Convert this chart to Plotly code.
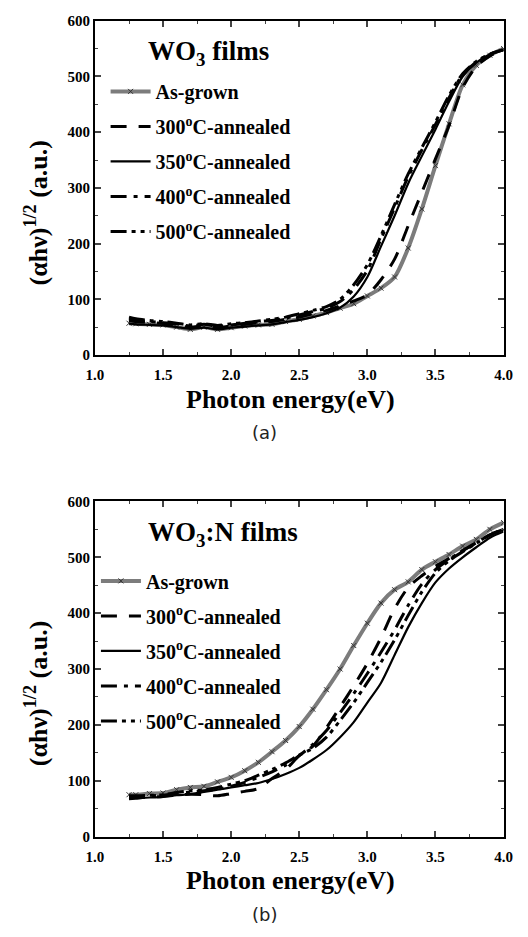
import plotly.graph_objects as go

# Photon energy grid (eV) shared by all spectra
energy = [1.25, 1.3, 1.4, 1.5, 1.6, 1.7, 1.8, 1.9, 2.0, 2.1, 2.2, 2.3, 2.4, 2.5,
          2.6, 2.7, 2.8, 2.9, 3.0, 3.1, 3.2, 3.3, 3.4, 3.5, 3.6, 3.7, 3.8, 3.9, 4.0]

# (a) WO3 films, (alpha*h*nu)^1/2 in a.u.
wo3_as_grown = [57, 56, 55, 54, 50, 46, 50, 46, 49, 52, 54, 55, 60, 64, 70, 76, 84, 92,
                106, 120, 140, 192, 262, 340, 415, 485, 520, 538, 550]
wo3_300 = [62, 60, 58, 57, 53, 50, 52, 49, 52, 55, 58, 60, 64, 68, 74, 80, 88, 97,
           108, 135, 172, 232, 292, 352, 412, 480, 518, 537, 548]
wo3_350 = [56, 55, 54, 53, 50, 47, 49, 46, 49, 51, 53, 55, 59, 63, 68, 75, 85, 105,
           140, 195, 250, 308, 357, 405, 455, 500, 525, 540, 548]
wo3_400 = [65, 62, 60, 58, 56, 52, 55, 52, 54, 57, 60, 62, 66, 72, 78, 84, 96, 118,
           152, 208, 264, 320, 368, 414, 462, 503, 526, 540, 548]
wo3_500 = [68, 65, 62, 60, 57, 54, 56, 53, 56, 58, 61, 64, 68, 74, 80, 87, 100, 126,
           162, 214, 270, 325, 372, 418, 466, 505, 527, 540, 548]

# (b) WO3:N films
wo3n_as_grown = [75, 75, 77, 78, 84, 88, 90, 98, 106, 118, 133, 152, 172, 197, 228, 263,
                 300, 342, 382, 418, 442, 456, 478, 492, 505, 520, 532, 550, 562]
wo3n_300 = [70, 70, 71, 72, 74, 76, 75, 73, 77, 81, 86, 104, 120, 145, 162, 195, 232,
            270, 310, 356, 408, 446, 467, 484, 498, 512, 526, 540, 550]
wo3n_350 = [67, 68, 70, 71, 74, 76, 80, 84, 88, 92, 96, 103, 112, 123, 138, 155, 178,
            205, 240, 275, 325, 375, 418, 455, 480, 500, 518, 535, 546]
wo3n_400 = [72, 72, 73, 74, 77, 80, 82, 85, 90, 97, 106, 116, 128, 145, 165, 190, 222,
            256, 292, 330, 370, 414, 452, 478, 496, 512, 526, 540, 550]
wo3n_500 = [73, 73, 74, 75, 79, 82, 84, 88, 94, 100, 110, 120, 132, 146, 158, 178, 208,
            240, 276, 312, 352, 396, 438, 472, 494, 510, 525, 540, 550]

series_labels = ["As-grown", "300<sup>o</sup>C-annealed", "350<sup>o</sup>C-annealed",
                 "400<sup>o</sup>C-annealed", "500<sup>o</sup>C-annealed"]
panel_titles = ["WO<sub>3</sub> films", "WO<sub>3</sub>:N films"]
panel_tags = ["(a)", "(b)"]

W, H = 528, 937
SERIF = "Liberation Serif"


def px(x):
    return x / W


def py(y):
    return 1 - y / H


line_styles = [
    dict(color="#7c7c7c", width=4, dash="solid"),
    dict(color="black", width=3, dash="16px,12px"),
    dict(color="black", width=2.2, dash="solid"),
    dict(color="black", width=3, dash="16px,7px,4px,7px"),
    dict(color="black", width=3, dash="16px,5px,4px,5px,4px,5px"),
]

fig = go.Figure()

panels = [
    ([wo3_as_grown, wo3_300, wo3_350, wo3_400, wo3_500], "x", "y", "legend"),
    ([wo3n_as_grown, wo3n_300, wo3n_350, wo3n_400, wo3n_500], "x2", "y2", "legend2"),
]

for p, (data, xa, ya, leg) in enumerate(panels):
    for i, (vals, label) in enumerate(zip(data, series_labels)):
        mode = "lines+markers" if i == 0 else "lines"
        fig.add_trace(go.Scatter(
            x=energy, y=vals, mode=mode, name=label,
            line=dict(shape="spline", smoothing=0.8, **line_styles[i]),
            marker=dict(symbol="x-thin", size=5, line=dict(width=1, color="#333")),
            xaxis=xa, yaxis=ya, legend=leg, legendgroup=f"{leg}_{i}",
        ))

tick_font = dict(family=SERIF, size=15, color="black", weight="bold")

x_common = dict(range=[1.0, 4.0], dtick=0.5, tick0=1.0, tickformat=".1f",
                ticks="inside", ticklen=6, tickwidth=1.5, showline=True,
                linewidth=1.8, linecolor="black", mirror="ticks", showgrid=False,
                zeroline=False, tickfont=tick_font, ticklabelstandoff=5,
                minor=dict(ticks="inside", ticklen=3, tickwidth=1.2, dtick=0.25,
                           showgrid=False))
y_common = dict(range=[0, 600], dtick=100, ticks="inside", ticklen=6, tickwidth=1.5,
                showline=True, linewidth=1.8, linecolor="black", mirror="ticks",
                showgrid=False, zeroline=False, tickfont=tick_font,
                minor=dict(ticks="inside", ticklen=3, tickwidth=1.2, dtick=50,
                           showgrid=False))

legend_font = dict(family=SERIF, size=20, color="black", weight="bold")

# Plot areas in pixels: x 89..512, panel (a) y 13..353, panel (b) y 502..843
fig.update_layout(
    width=W, height=H, margin=dict(l=0, r=0, t=0, b=0),
    paper_bgcolor="white", plot_bgcolor="white",
    xaxis=dict(domain=[px(89), px(512)], anchor="y", **x_common),
    yaxis=dict(domain=[py(353), py(13)], anchor="x", **y_common),
    xaxis2=dict(domain=[px(89), px(512)], anchor="y2", **x_common),
    yaxis2=dict(domain=[py(843), py(502)], anchor="x2", **y_common),
    legend=dict(x=px(100), y=py(65), xanchor="left", yanchor="top",
                bgcolor="rgba(0,0,0,0)", tracegroupgap=6, itemwidth=40,
                font=legend_font),
    legend2=dict(x=px(90), y=py(563), xanchor="left", yanchor="top",
                 bgcolor="rgba(0,0,0,0)", tracegroupgap=6, itemwidth=40,
                 font=legend_font),
    showlegend=True,
)

annotations = []
for p, (top, bottom) in enumerate([(13, 353), (502, 843)]):
    # panel heading
    annotations.append(dict(text=panel_titles[p], x=px(142), y=py(top + 33),
                            xref="paper", yref="paper", xanchor="left", yanchor="middle",
                            showarrow=False,
                            font=dict(family=SERIF, size=27, color="black",
                                      weight="bold")))
    # y-axis title
    annotations.append(dict(text="(\u03b1h\u03bd)<sup>1/2</sup> (a.u.)", x=px(28),
                            y=py(top + 196), xref="paper", yref="paper",
                            xanchor="center", yanchor="middle", textangle=-90,
                            showarrow=False,
                            font=dict(family=SERIF, size=26, color="black",
                                      weight="bold")))
    # x-axis title
    annotations.append(dict(text="Photon energy(eV)", x=px(291), y=py(bottom + 45),
                            xref="paper", yref="paper", xanchor="center",
                            yanchor="middle", showarrow=False,
                            font=dict(family=SERIF, size=26, color="black",
                                      weight="bold")))
    # panel tag
    annotations.append(dict(text=panel_tags[p], x=px(265), y=py(bottom + 79),
                            xref="paper", yref="paper", xanchor="center",
                            yanchor="middle", showarrow=False,
                            font=dict(family="DejaVu Sans", size=18, color="#222")))

fig.update_layout(annotations=annotations)

fig.write_html("out.html")
